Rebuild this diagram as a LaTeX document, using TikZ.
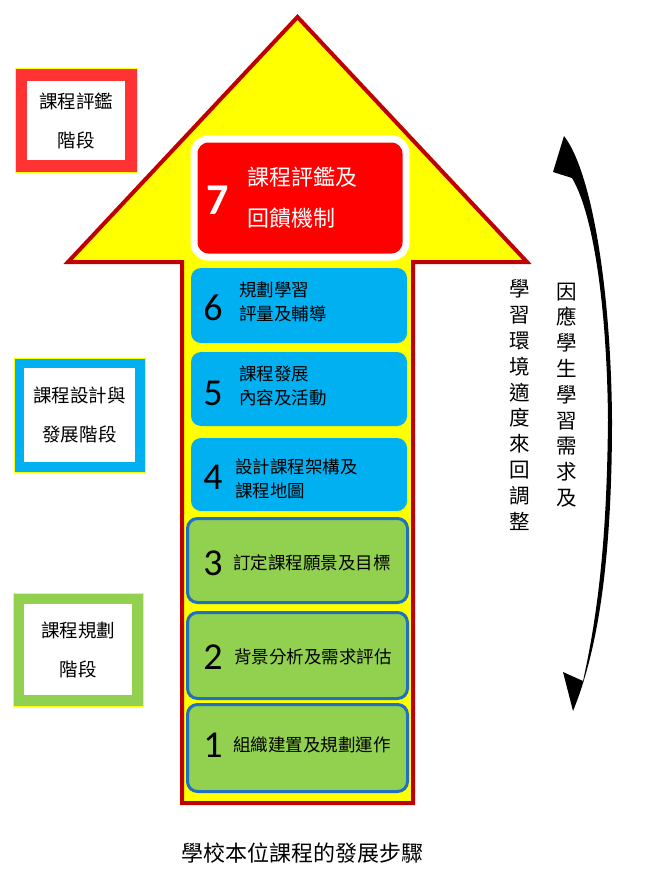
\documentclass[tikz,border=0pt]{standalone}
\usepackage{fontspec}
\usepackage{xcolor}
\usepackage{tikz}
\usetikzlibrary{
  positioning,
  calc
}
\newfontfamily\tcfont{Noto Sans CJK TC}
\newfontfamily\numfont{Carlito}
\definecolor{suYellow}{HTML}{FFFF00}
\definecolor{suEdge}{HTML}{C00000}
\definecolor{suRed}{HTML}{FF0000}
\definecolor{suFrameRed}{HTML}{FF3333}
\definecolor{suBlue}{HTML}{00B0F0}
\definecolor{suGreen}{HTML}{92D050}
\definecolor{suLine}{HTML}{1F6FC5}
\tikzset{
  stepbox/.style={
    rounded corners=10pt, minimum width=216pt, inner sep=0pt, outer sep=0pt
  },
  designstep/.style={stepbox, fill=suBlue},
  planstep/.style={stepbox, fill=suGreen, draw=suLine, line width=3pt, minimum width=220pt},
  evalstep/.style={stepbox, fill=suRed, draw=white, line width=7pt, rounded corners=14pt, minimum width=212pt},
  stepnum/.style={font=\numfont\fontsize{38}{38}\selectfont, inner sep=0pt},
  steptext/.style={font=\tcfont\fontsize{17.5}{24}\selectfont, align=left, anchor=west, inner sep=0pt},
  stagebox/.style={
    draw, fill=white, inner sep=0pt, outer sep=0pt, align=center,
    font=\tcfont\fontsize{18.5}{39}\selectfont
  },
  stageedge/.style={draw=suYellow, line width=1pt},
  sidetext/.style={font=\tcfont\fontsize{20.5}{25.8}\selectfont, align=center, inner sep=0pt},
  bigarrow/.style={fill=suYellow, draw=suEdge, line width=4pt, line join=miter}
}
\begin{document}
\begin{tikzpicture}[x=1pt, y=-1pt]
  \useasboundingbox (0,0) rectangle (656,880);
  % upward arrow
  \draw[bigarrow] (182,803) -- (182,262) -- (68,262) -- (297.5,17) -- (527,262) -- (413,262) -- (413,803) -- cycle;

  % steps
  \node[evalstep, minimum height=118pt] (step7) at (300,198) {};
  \node[designstep, minimum height=75pt] (step6) at (299,305.5) {};
  \node[designstep, minimum height=74pt] (step5) at (299,389) {};
  \node[designstep, minimum height=73pt] (step4) at (299,474.5) {};
  \node[planstep, minimum height=84pt] (step3) at (297.5,560.5) {};
  \node[planstep, minimum height=86pt] (step2) at (297.5,655.5) {};
  \node[planstep, minimum height=87pt] (step1) at (297.5,748) {};

  \node[stepnum, text=white, font=\numfont\bfseries\fontsize{44}{44}\selectfont] (num7) at ([xshift=24pt, yshift=-2pt]step7.west) {7};
  \node[steptext, text=white, font=\tcfont\fontsize{22}{41}\selectfont] (text7) at ([xshift=53pt]step7.west) {課程評鑑及\\回饋機制};
  \node[stepnum] (num6) at ([xshift=22pt, yshift=-2pt]step6.west) {6};
  \node[steptext] (text6) at ([xshift=48pt, yshift=4pt]step6.west) {規劃學習\\評量及輔導};
  \node[stepnum] (num5) at ([xshift=22pt, yshift=-4pt]step5.west) {5};
  \node[steptext] (text5) at ([xshift=48pt, yshift=3.5pt]step5.west) {課程發展\\內容及活動};
  \node[stepnum] (num4) at ([xshift=22pt, yshift=-3pt]step4.west) {4};
  \node[steptext] (text4) at ([xshift=44pt, yshift=-4.5pt]step4.west) {設計課程架構及\\課程地圖};
  \node[stepnum] (num3) at ([xshift=25.5pt, yshift=-2.5pt]step3.west) {3};
  \node[steptext] (text3) at ([xshift=45.5pt, yshift=-2.5pt]step3.west) {訂定課程願景及目標};
  \node[stepnum] (num2) at ([xshift=25.5pt, yshift=-1.5pt]step2.west) {2};
  \node[steptext] (text2) at ([xshift=46.5pt, yshift=-1.5pt]step2.west) {背景分析及需求評估};
  \node[stepnum] (num1) at ([xshift=25.5pt, yshift=3pt]step1.west) {1};
  \node[steptext] (text1) at ([xshift=45.5pt, yshift=3pt]step1.west) {組織建置及規劃運作};

  % stages
  \node[stagebox, draw=suFrameRed, line width=12pt, minimum width=110pt, minimum height=91pt] (evalstage) at (76,120.5) {課程評鑑\\階段};
  \node[stagebox, draw=suBlue, line width=10pt, minimum width=121pt, minimum height=104pt] (designstage) at (79.5,415) {課程設計與\\發展階段};
  \node[stagebox, draw=suGreen, line width=11pt, minimum width=119pt, minimum height=102pt] (planstage) at (78,649.5) {課程規劃\\階段};
  \draw[stageedge] ([shift={(-6,-6)}]evalstage.north west) rectangle ([shift={(6,6)}]evalstage.south east);
  \draw[stageedge] ([shift={(-5,-5)}]designstage.north west) rectangle ([shift={(5,5)}]designstage.south east);
  \draw[stageedge] ([shift={(-5.5,-5.5)}]planstage.north west) rectangle ([shift={(5.5,5.5)}]planstage.south east);

  % two-way bent arrow
  \fill[black] (564,136) .. controls (592,172) and (611,290) .. (612,420)
    .. controls (612,560) and (598,650) .. (573,711)
    -- (563,672) -- (583,681)
    .. controls (601,600) and (607,520) .. (608,420)
    .. controls (607,310) and (594,215) .. (572,178)
    -- (553,172) -- cycle;
  \node[sidetext] (needs) at (567,395) {因\\應\\學\\生\\學\\習\\需\\求\\及};
  \node[sidetext] (adjust) at (520,405) {學\\習\\環\\境\\適\\度\\來\\回\\調\\整};

  \node[font=\tcfont\fontsize{22}{22}\selectfont] (caption) at (302,853) {學校本位課程的發展步驟};
\end{tikzpicture}
\end{document}
